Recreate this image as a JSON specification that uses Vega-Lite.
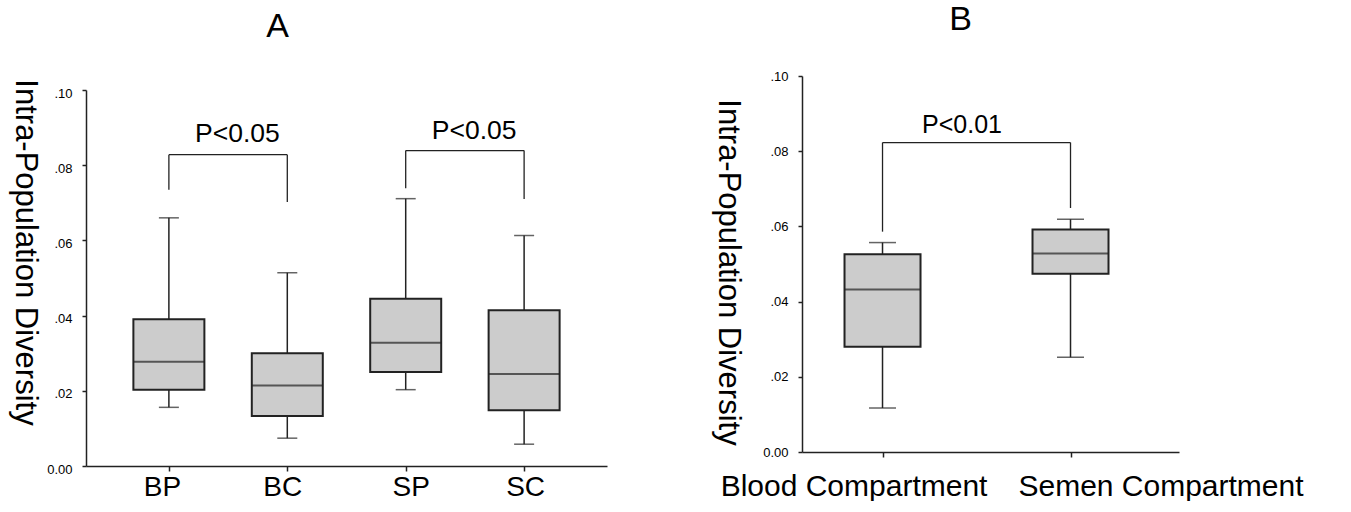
{
  "$schema": "https://vega.github.io/schema/vega-lite/v6.json",
  "background": "white",
  "padding": {"left": 8, "top": 3, "right": 0, "bottom": 0},
  "config": {
    "view": {"stroke": null},
    "font": "Liberation Sans",
    "concat": {"spacing": 104},
    "axis": {"labelColor": "black", "titleColor": "black", "domainColor": "#222", "tickColor": "#222", "domainWidth": 1.5, "tickWidth": 1.5, "grid": false, "labelLimit": 500}
  },
  "datasets": {
    "boxA": [
      {"g": "BP", "lo": 0.0156, "q1": 0.0203, "med": 0.0277, "q3": 0.0390, "hi": 0.0660},
      {"g": "BC", "lo": 0.0074, "q1": 0.0133, "med": 0.0214, "q3": 0.0300, "hi": 0.0514},
      {"g": "SP", "lo": 0.0203, "q1": 0.0250, "med": 0.0328, "q3": 0.0445, "hi": 0.0711},
      {"g": "SC", "lo": 0.0058, "q1": 0.0148, "med": 0.0245, "q3": 0.0414, "hi": 0.0613}
    ],
    "vertA": [
      {"g": "BP", "lo": 0.0735, "hi": 0.0828},
      {"g": "BC", "lo": 0.0702, "hi": 0.0828},
      {"g": "SP", "lo": 0.0739, "hi": 0.0839},
      {"g": "SC", "lo": 0.0710, "hi": 0.0839}
    ],
    "horizA": [
      {"from": "BP", "to": "BC", "y": 0.0828},
      {"from": "SP", "to": "SC", "y": 0.0839}
    ],
    "textA": [
      {"g": "BP", "t": "P<0.05", "y": 0.0863},
      {"g": "SP", "t": "P<0.05", "y": 0.0870}
    ],
    "boxB": [
      {"g": "Blood Compartment", "lo": 0.0117, "q1": 0.0280, "med": 0.0432, "q3": 0.0526, "hi": 0.0557},
      {"g": "Semen Compartment", "lo": 0.0252, "q1": 0.0474, "med": 0.0528, "q3": 0.0592, "hi": 0.0619}
    ],
    "vertB": [
      {"g": "Blood Compartment", "lo": 0.0586, "hi": 0.0823},
      {"g": "Semen Compartment", "lo": 0.0649, "hi": 0.0823}
    ],
    "horizB": [
      {"from": "Blood Compartment", "to": "Semen Compartment", "y": 0.0823}
    ],
    "textB": [
      {"g": "Blood Compartment", "t": "P<0.01", "y": 0.0848}
    ]
  },
  "hconcat": [
    {
      "vconcat": [
        {
          "width": 521,
          "height": 1,
          "data": {"values": [{}]},
          "mark": {"type": "point", "opacity": 0}
        },
        {
          "width": 521,
          "height": 376,
          "title": {"text": "A", "fontSize": 34, "fontWeight": "normal", "frame": "group", "anchor": "middle", "dx": -69, "offset": 35, "color": "black"},
          "layer": [
            {
              "data": {"name": "boxA"},
              "mark": {"type": "rule", "color": "#222", "strokeWidth": 1.5},
              "encoding": {
                "x": {"field": "g", "type": "nominal", "title": null, "scale": {"type": "point", "domain": ["BP", "BC", "SP", "SC"], "padding": 0.7},
                  "axis": {"labelAngle": 0, "labelFontSize": 28, "tickSize": 5, "labelPadding": 2,
                    "labelOffset": {"condition": [{"test": "datum.value === 'BP'", "value": -7}, {"test": "datum.value === 'BC'", "value": -5}, {"test": "datum.value === 'SP'", "value": 5}], "value": 1}}},
                "y": {"field": "lo", "type": "quantitative", "title": "Intra-Population Diversity", "scale": {"domain": [0, 0.1], "nice": false},
                  "axis": {"values": [0, 0.02, 0.04, 0.06, 0.08, 0.1], "labelExpr": "datum.value === 0 ? '0.00' : slice(format(datum.value, '.2f'), 1)",
                    "labelFontSize": 13, "tickSize": 4, "labelPadding": 10, "labelOffset": 3,
                    "titleAngle": 90, "titleFontSize": 31, "titleFontWeight": "normal", "titleX": -62, "titleY": 162, "titleBaseline": "middle", "titleAlign": "center"}},
                "y2": {"field": "hi"}
              }
            },
            {
              "data": {"name": "boxA"},
              "mark": {"type": "tick", "color": "#222", "size": 20, "thickness": 1.5},
              "encoding": {
                "x": {"field": "g", "type": "nominal", "title": null, "scale": {"type": "point", "domain": ["BP", "BC", "SP", "SC"], "padding": 0.7}},
                "y": {"field": "lo", "type": "quantitative", "title": "Intra-Population Diversity", "scale": {"domain": [0, 0.1], "nice": false}}
              }
            },
            {
              "data": {"name": "boxA"},
              "mark": {"type": "tick", "color": "#222", "size": 20, "thickness": 1.5},
              "encoding": {
                "x": {"field": "g", "type": "nominal", "title": null, "scale": {"type": "point", "domain": ["BP", "BC", "SP", "SC"], "padding": 0.7}},
                "y": {"field": "hi", "type": "quantitative", "title": "Intra-Population Diversity", "scale": {"domain": [0, 0.1], "nice": false}}
              }
            },
            {
              "data": {"name": "boxA"},
              "mark": {"type": "bar", "size": 71, "fill": "#cccccc", "stroke": "#222", "strokeWidth": 2},
              "encoding": {
                "x": {"field": "g", "type": "nominal", "title": null, "scale": {"type": "point", "domain": ["BP", "BC", "SP", "SC"], "padding": 0.7}},
                "y": {"field": "q1", "type": "quantitative", "title": "Intra-Population Diversity", "scale": {"domain": [0, 0.1], "nice": false}},
                "y2": {"field": "q3"}
              }
            },
            {
              "data": {"name": "boxA"},
              "mark": {"type": "tick", "color": "#222", "size": 71, "thickness": 2},
              "encoding": {
                "x": {"field": "g", "type": "nominal", "title": null, "scale": {"type": "point", "domain": ["BP", "BC", "SP", "SC"], "padding": 0.7}},
                "y": {"field": "med", "type": "quantitative", "title": "Intra-Population Diversity", "scale": {"domain": [0, 0.1], "nice": false}}
              }
            },
            {
              "data": {"name": "vertA"},
              "mark": {"type": "rule", "color": "#222", "strokeWidth": 1.3},
              "encoding": {
                "x": {"field": "g", "type": "nominal", "title": null, "scale": {"type": "point", "domain": ["BP", "BC", "SP", "SC"], "padding": 0.7}},
                "y": {"field": "lo", "type": "quantitative", "title": "Intra-Population Diversity", "scale": {"domain": [0, 0.1], "nice": false}},
                "y2": {"field": "hi"}
              }
            },
            {
              "data": {"name": "horizA"},
              "mark": {"type": "rule", "color": "#222", "strokeWidth": 1.3},
              "encoding": {
                "x": {"field": "from", "type": "nominal", "title": null, "scale": {"type": "point", "domain": ["BP", "BC", "SP", "SC"], "padding": 0.7}},
                "x2": {"field": "to"},
                "y": {"field": "y", "type": "quantitative", "title": "Intra-Population Diversity", "scale": {"domain": [0, 0.1], "nice": false}}
              }
            },
            {
              "data": {"name": "textA"},
              "mark": {"type": "text", "fontSize": 26.5, "color": "black", "dx": 68.5, "align": "center", "baseline": "alphabetic"},
              "encoding": {
                "x": {"field": "g", "type": "nominal", "title": null, "scale": {"type": "point", "domain": ["BP", "BC", "SP", "SC"], "padding": 0.7}},
                "y": {"field": "y", "type": "quantitative", "title": "Intra-Population Diversity", "scale": {"domain": [0, 0.1], "nice": false}},
                "text": {"field": "t"}
              }
            }
          ]
        }
      ],
      "spacing": 13,
      "bounds": "flush"
    },
    {
      "width": 377,
      "height": 376,
      "title": {"text": "B", "fontSize": 34, "fontWeight": "normal", "frame": "group", "anchor": "middle", "dx": -30, "offset": 33, "color": "black"},
      "layer": [
        {
          "data": {"name": "boxB"},
          "mark": {"type": "rule", "color": "#222", "strokeWidth": 1.5},
          "encoding": {
            "x": {"field": "g", "type": "nominal", "title": null, "scale": {"type": "point", "domain": ["Blood Compartment", "Semen Compartment"], "padding": 0.5027, "align": 0.426},
              "axis": {"labelAngle": 0, "labelFontSize": 30, "tickSize": 5, "labelPadding": 14,
                "labelOffset": {"condition": {"test": "datum.value === 'Blood Compartment'", "value": -29}, "value": 90}}},
            "y": {"field": "lo", "type": "quantitative", "title": "Intra-Population Diversity", "scale": {"domain": [0, 0.1], "nice": false},
              "axis": {"values": [0, 0.02, 0.04, 0.06, 0.08, 0.1], "labelExpr": "datum.value === 0 ? '0.00' : slice(format(datum.value, '.2f'), 1)",
                "labelFontSize": 13, "tickSize": 4, "labelPadding": 10, "labelOffset": 0,
                "titleAngle": 90, "titleFontSize": 31, "titleFontWeight": "normal", "titleX": -75, "titleY": 196, "titleBaseline": "middle", "titleAlign": "center"}},
            "y2": {"field": "hi"}
          }
        },
        {
          "data": {"name": "boxB"},
          "mark": {"type": "tick", "color": "#222", "size": 27, "thickness": 1.5},
          "encoding": {
            "x": {"field": "g", "type": "nominal", "title": null, "scale": {"type": "point", "domain": ["Blood Compartment", "Semen Compartment"], "padding": 0.5027, "align": 0.426}},
            "y": {"field": "lo", "type": "quantitative", "title": "Intra-Population Diversity", "scale": {"domain": [0, 0.1], "nice": false}}
          }
        },
        {
          "data": {"name": "boxB"},
          "mark": {"type": "tick", "color": "#222", "size": 27, "thickness": 1.5},
          "encoding": {
            "x": {"field": "g", "type": "nominal", "title": null, "scale": {"type": "point", "domain": ["Blood Compartment", "Semen Compartment"], "padding": 0.5027, "align": 0.426}},
            "y": {"field": "hi", "type": "quantitative", "title": "Intra-Population Diversity", "scale": {"domain": [0, 0.1], "nice": false}}
          }
        },
        {
          "data": {"name": "boxB"},
          "mark": {"type": "bar", "size": 76, "fill": "#cccccc", "stroke": "#222", "strokeWidth": 2},
          "encoding": {
            "x": {"field": "g", "type": "nominal", "title": null, "scale": {"type": "point", "domain": ["Blood Compartment", "Semen Compartment"], "padding": 0.5027, "align": 0.426}},
            "y": {"field": "q1", "type": "quantitative", "title": "Intra-Population Diversity", "scale": {"domain": [0, 0.1], "nice": false}},
            "y2": {"field": "q3"}
          }
        },
        {
          "data": {"name": "boxB"},
          "mark": {"type": "tick", "color": "#222", "size": 76, "thickness": 2},
          "encoding": {
            "x": {"field": "g", "type": "nominal", "title": null, "scale": {"type": "point", "domain": ["Blood Compartment", "Semen Compartment"], "padding": 0.5027, "align": 0.426}},
            "y": {"field": "med", "type": "quantitative", "title": "Intra-Population Diversity", "scale": {"domain": [0, 0.1], "nice": false}}
          }
        },
        {
          "data": {"name": "vertB"},
          "mark": {"type": "rule", "color": "#222", "strokeWidth": 1.3},
          "encoding": {
            "x": {"field": "g", "type": "nominal", "title": null, "scale": {"type": "point", "domain": ["Blood Compartment", "Semen Compartment"], "padding": 0.5027, "align": 0.426}},
            "y": {"field": "lo", "type": "quantitative", "title": "Intra-Population Diversity", "scale": {"domain": [0, 0.1], "nice": false}},
            "y2": {"field": "hi"}
          }
        },
        {
          "data": {"name": "horizB"},
          "mark": {"type": "rule", "color": "#222", "strokeWidth": 1.3},
          "encoding": {
            "x": {"field": "from", "type": "nominal", "title": null, "scale": {"type": "point", "domain": ["Blood Compartment", "Semen Compartment"], "padding": 0.5027, "align": 0.426}},
            "x2": {"field": "to"},
            "y": {"field": "y", "type": "quantitative", "title": "Intra-Population Diversity", "scale": {"domain": [0, 0.1], "nice": false}}
          }
        },
        {
          "data": {"name": "textB"},
          "mark": {"type": "text", "fontSize": 25, "color": "black", "dx": 79.5, "align": "center", "baseline": "alphabetic"},
          "encoding": {
            "x": {"field": "g", "type": "nominal", "title": null, "scale": {"type": "point", "domain": ["Blood Compartment", "Semen Compartment"], "padding": 0.5027, "align": 0.426}},
            "y": {"field": "y", "type": "quantitative", "title": "Intra-Population Diversity", "scale": {"domain": [0, 0.1], "nice": false}},
            "text": {"field": "t"}
          }
        }
      ]
    }
  ]
}
